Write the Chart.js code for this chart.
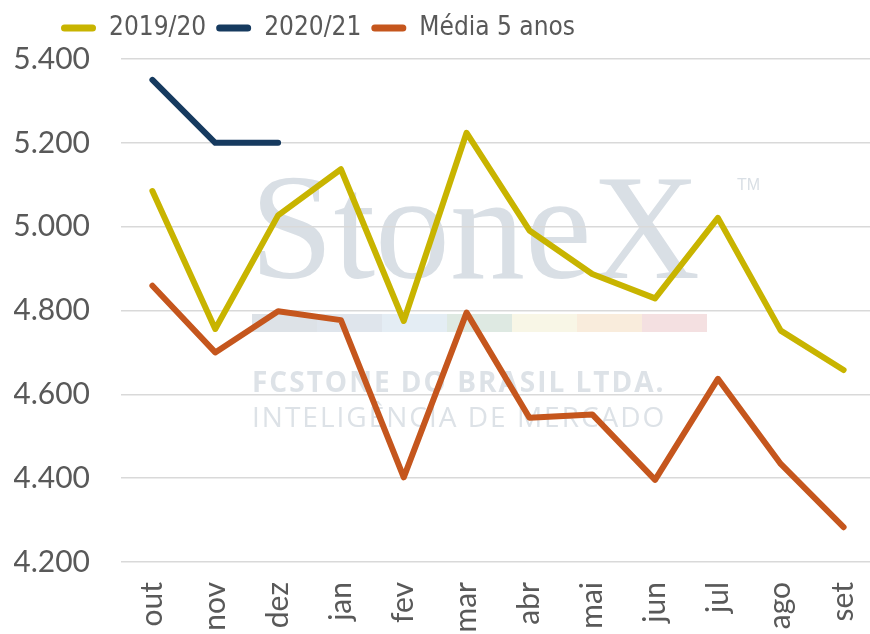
<!DOCTYPE html>
<html>
  <head>
    <meta charset="utf-8">
    <title>Média 5 anos</title>
    <script src="https://cdn.jsdelivr.net/npm/chart.js@4/dist/chart.umd.min.js"></script>
    <style>
      body { margin: 0; overflow: hidden; background: #fff; }
      #wrap { width: 875px; height: 634px; position: relative; }
    </style>
  </head>
  <body>
    <div id="wrap"><canvas id="chart"></canvas></div>

    <script type="text/javascript">
      var months = ["out", "nov", "dez", "jan", "fev", "mar", "abr", "mai", "jun", "jul", "ago", "set"];
      var safra1920 = [5085, 4756, 5027, 5137, 4775, 5224, 4991, 4887, 4829, 5021, 4752, 4658];
      var safra2021 = [5350, 5200, 5200, null, null, null, null, null, null, null, null, null];
      var media5anos = [4859, 4700, 4798, 4777, 4402, 4795, 4544, 4552, 4396, 4637, 4434, 4283];
      var yTicks = [4200, 4400, 4600, 4800, 5000, 5200, 5400];

      var GRAY = "#595959";
      var FONT = "Lato, 'Open Sans', sans-serif";
      var LEGEND_FONT = "'Liberation Sans Narrow', 'DejaVu Sans Condensed', Lato, sans-serif";

      // faint StoneX watermark behind the plot
      var watermark = {
        id: "watermark",
        beforeDraw: function(chart) {
          var ctx = chart.ctx;
          ctx.save();
          ctx.fillStyle = "#d9dfe5";
          ctx.textBaseline = "alphabetic";
          ctx.font = "150px 'Liberation Serif', 'DejaVu Serif', serif";
          ctx.fillText("StoneX", 250, 278);
          ctx.font = "16px 'Liberation Sans', sans-serif";
          ctx.fillText("TM", 737, 190);
          var bar = ["#dde2e7", "#dfe5ec", "#e4edf4", "#dee9e2", "#f8f6e6", "#f9ecdc", "#f4e0e1"];
          for (var i = 0; i != bar.length; ++i) {
            ctx.fillStyle = bar[i];
            ctx.fillRect(252 + i * 65, 314, 65, 18);
          }
          ctx.fillStyle = "#dde2e7";
          ctx.font = "bold 28px 'Open Sans', sans-serif";
          if ("letterSpacing" in ctx) ctx.letterSpacing = "2px";
          ctx.fillText("FCSTONE DO BRASIL LTDA.", 252, 392);
          ctx.font = "28px 'Open Sans', sans-serif";
          ctx.fillText("INTELIGÊNCIA DE MERCADO", 252, 427);
          ctx.restore();
        }
      };

      // legend sits a bit left and higher than chart.js would put it
      var moveLegend = {
        id: "moveLegend",
        afterLayout: function(chart) {
          chart.legend.left = 51;
          chart.legend.top = 5;
        }
      };

      function line(label, data, color) {
        return {
          label: label,
          data: data,
          borderColor: color,
          backgroundColor: color,
          borderWidth: 6,
          borderCapStyle: "round",
          borderJoinStyle: "round",
          pointRadius: 0,
          pointHoverRadius: 0,
          tension: 0,
          spanGaps: false
        };
      }

      new Chart(document.getElementById("chart"), {
        type: "line",
        data: {
          labels: months,
          datasets: [
            line("2019/20", safra1920, "#c8b400"),
            line("2020/21", safra2021, "#163a5f"),
            line("Média 5 anos", media5anos, "#c5561d")
          ]
        },
        plugins: [watermark, moveLegend],
        options: {
          responsive: true,
          maintainAspectRatio: false,
          animation: false,
          layout: { padding: { left: 14, right: 0, top: 13, bottom: 0 } },
          plugins: {
            tooltip: { enabled: false },
            legend: {
              position: "top",
              align: "start",
              labels: {
                boxWidth: 35,
                boxHeight: 7,
                useBorderRadius: true,
                borderRadius: 3.5,
                padding: 10,
                color: GRAY,
                font: { family: LEGEND_FONT, size: 26, lineHeight: 1.2 },
                generateLabels: function(chart) {
                  var items = Chart.defaults.plugins.legend.labels.generateLabels(chart);
                  items.forEach(function(it) { it.lineWidth = 0; });
                  return items;
                }
              }
            }
          },
          scales: {
            x: {
              offset: true,
              grid: { display: false, drawTicks: false, offset: true },
              border: { display: false },
              ticks: {
                color: GRAY,
                font: { family: FONT, size: 30 },
                minRotation: 90,
                maxRotation: 90,
                padding: 20,
                autoSkip: false
              },
              afterFit: function(scale) {
                scale.height = 72;
                scale.paddingLeft = 0;
                scale.paddingRight = 0;
              }
            },
            y: {
              min: yTicks[0],
              max: yTicks[yTicks.length - 1],
              afterBuildTicks: function(scale) {
                scale.ticks = yTicks.map(function(v) { return { value: v }; });
              },
              grid: { color: "#d9d9d9", lineWidth: 1.5, drawTicks: false },
              border: { display: false },
              ticks: {
                color: GRAY,
                font: { family: FONT, size: 30 },
                padding: 31,
                callback: function(v) { return (v / 1000).toFixed(3); }
              },
              afterFit: function(scale) {
                scale.width = 107;
                scale.paddingTop = 0;
                scale.paddingBottom = 0;
              }
            }
          }
        }
      });
    </script>
  </body>
</html>
